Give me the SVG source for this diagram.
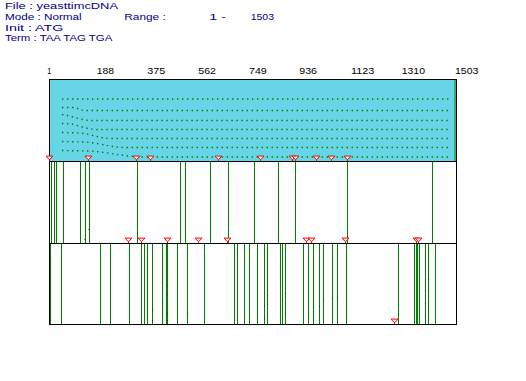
<svg xmlns="http://www.w3.org/2000/svg" xmlns:xlink="http://www.w3.org/1999/xlink" width="526" height="381" viewBox="0 0 526 381">
<style>
.hd{font-family:"Liberation Sans",Arial,sans-serif;font-size:9.5px;fill:#00008c}
.ax{font-family:"Liberation Sans",Arial,sans-serif;font-size:9.5px;fill:#000}
.frame{fill:none;stroke:#000;stroke-width:1}
.g{stroke:#008000;stroke-width:1;fill:none}
.dots{stroke:#008000;stroke-width:1.4;fill:none;stroke-dasharray:1.4 3.6}
.bd{fill:#222}
</style>
<defs>
<path id="tri" d="M-3.5,0.6 H3.5 L0,4.3 Z M0,4.3 V5.5" fill="#fff" stroke="#f00" stroke-width="1"/>
</defs>
<rect width="526" height="381" fill="#fff"/>
<g id="header">
<text class="hd" x="5" y="9" textLength="113" lengthAdjust="spacingAndGlyphs">File : yeasttimcDNA</text>
<text class="hd" x="5" y="20" textLength="76.7" lengthAdjust="spacingAndGlyphs">Mode : Normal</text>
<text class="hd" x="124.3" y="20" textLength="41.4" lengthAdjust="spacingAndGlyphs">Range :</text>
<text class="hd" x="209.3" y="20" textLength="16.7" lengthAdjust="spacingAndGlyphs">1 -</text>
<text class="hd" x="250.7" y="20" textLength="23.3" lengthAdjust="spacingAndGlyphs">1503</text>
<text class="hd" x="5" y="30.7" textLength="58.3" lengthAdjust="spacingAndGlyphs">Init : ATG</text>
<text class="hd" x="5" y="41.3" textLength="107.3" lengthAdjust="spacingAndGlyphs">Term : TAA TAG TGA</text>
</g>
<g id="axis">
<text class="ax" x="47.3" y="74" textLength="4" lengthAdjust="spacingAndGlyphs">1</text>
<text class="ax" x="96.7" y="74" textLength="17.3" lengthAdjust="spacingAndGlyphs">188</text>
<text class="ax" x="147.3" y="74" textLength="18" lengthAdjust="spacingAndGlyphs">375</text>
<text class="ax" x="198.3" y="74" textLength="17.7" lengthAdjust="spacingAndGlyphs">562</text>
<text class="ax" x="249" y="74" textLength="17.7" lengthAdjust="spacingAndGlyphs">749</text>
<text class="ax" x="299.3" y="74" textLength="17.7" lengthAdjust="spacingAndGlyphs">936</text>
<text class="ax" x="351" y="74" textLength="23.3" lengthAdjust="spacingAndGlyphs">1123</text>
<text class="ax" x="401.7" y="74" textLength="23.3" lengthAdjust="spacingAndGlyphs">1310</text>
<text class="ax" x="455" y="74" textLength="23.3" lengthAdjust="spacingAndGlyphs">1503</text>
</g>
<g id="plot-panel">
<rect x="49.5" y="79.5" width="407" height="82" fill="#66d6e6"/>
<line class="g" x1="455" y1="80" x2="455" y2="161"/>
<g id="dot-rows">
<path class="dots" d="M62,99 L451,99"/>
<path class="dots" d="M62,107.5 L72,107.5 C78,107.5 80,110.5 86,110.5 L451,110.5"/>
<path class="dots" d="M62,114.5 C72,116 82,120.5 92,120.5 L451,120.5"/>
<path class="dots" d="M62,123.5 L72,124 C80,126 88,129.5 98,129.5 L451,129.5"/>
<path class="dots" d="M62,132.5 L80,133 C95,135 100,138.5 112,138.5 L451,138.5"/>
<path class="dots" d="M62,141.5 L85,142 C105,144 112,147.5 125,147.5 L451,147.5"/>
<path class="dots" d="M62,150.5 L90,151 C115,153 125,157 145,157 L451,157"/>
</g>
</g>
<g id="mid-lines">
<path class="g" d="M51.5,162V243M54.5,162V243M56.5,162V243M63.5,162V243M80.5,162V243M85.5,162V243M89.5,162V243M137.5,162V243M180.5,162V243M185.5,162V243M210.5,162V243M228.5,162V243M254.5,162V243M278.5,162V243M295.5,162V243M347.5,162V243M432.5,162V243"/>
<rect class="bd" x="88.5" y="229" width="1" height="1"/>
<rect class="bd" x="84.5" y="239" width="1" height="1"/>
</g>
<g id="bottom-lines">
<path class="g" d="M50.5,244V324M61.5,244V324M100.5,244V324M110.5,244V324M129.5,244V324M141.5,244V324M144.5,244V324M147.5,244V324M152.5,244V324M162.5,244V324M166.5,244V324M167.5,244V324M177.5,244V324M187.5,244V324M204.5,244V324M234.5,244V324M237.5,244V324M244.5,244V324M249.5,244V324M257.5,244V324M264.5,244V324M267.5,244V324M280.5,244V324M282.5,244V324M285.5,244V324M303.5,244V324M308.5,244V324M313.5,244V324M319.5,244V324M323.5,244V324M332.5,244V324M337.5,244V324M346.5,244V324M398.5,244V324M414.5,244V324M416.5,244V324M417.5,244V324M419.5,244V324M425.5,244V324M428.5,244V324M435.5,244V324"/>
<g class="bd">
<rect x="166.5" y="285" width="1" height="1"/><rect x="166.5" y="294" width="1" height="1"/><rect x="162" y="302" width="1" height="1"/><rect x="152" y="309" width="1" height="1"/><rect x="152" y="320" width="1" height="1"/><rect x="167" y="313" width="1" height="1"/><rect x="167" y="320" width="1" height="1"/><rect x="187" y="313" width="1" height="1"/><rect x="267" y="295" width="1" height="1"/><rect x="264" y="305" width="1" height="1"/><rect x="267" y="304" width="1" height="1"/><rect x="264" y="318" width="1" height="1"/><rect x="285" y="293" width="1" height="1"/><rect x="282" y="300" width="1" height="1"/><rect x="285" y="313" width="1" height="1"/><rect x="308" y="315" width="1" height="1"/><rect x="313" y="307" width="1" height="1"/><rect x="319" y="306" width="1" height="1"/><rect x="323" y="300" width="1" height="1"/><rect x="332" y="298" width="1" height="1"/><rect x="337" y="297" width="1" height="1"/><rect x="425" y="290" width="1" height="1"/><rect x="428" y="279" width="1" height="1"/><rect x="428" y="289" width="1" height="1"/><rect x="425" y="303" width="1" height="1"/><rect x="425" y="315" width="1" height="1"/>
</g>
</g>
<g id="frame">
<rect class="frame" x="49.5" y="79.5" width="407" height="245"/>
<line class="frame" x1="49.5" y1="161.5" x2="456.5" y2="161.5"/>
<line class="frame" x1="49.5" y1="243.5" x2="456.5" y2="243.5"/>
</g>
<g id="stop-markers">
<use xlink:href="#tri" x="49.5" y="155.5"/>
<use xlink:href="#tri" x="88.5" y="155.5"/>
<use xlink:href="#tri" x="136.5" y="155.5"/>
<use xlink:href="#tri" x="150.5" y="155.5"/>
<use xlink:href="#tri" x="218.5" y="155.5"/>
<use xlink:href="#tri" x="260.5" y="155.5"/>
<use xlink:href="#tri" x="292.5" y="155.5"/>
<use xlink:href="#tri" x="295.5" y="155.5"/>
<use xlink:href="#tri" x="316.5" y="155.5"/>
<use xlink:href="#tri" x="331.5" y="155.5"/>
<use xlink:href="#tri" x="347.5" y="155.5"/>
<use xlink:href="#tri" x="128.5" y="237.5"/>
<use xlink:href="#tri" x="141.5" y="237.5"/>
<use xlink:href="#tri" x="167.5" y="237.5"/>
<use xlink:href="#tri" x="198.5" y="237.5"/>
<use xlink:href="#tri" x="227.5" y="237.5"/>
<use xlink:href="#tri" x="306.5" y="237.5"/>
<use xlink:href="#tri" x="311.5" y="237.5"/>
<use xlink:href="#tri" x="345.5" y="237.5"/>
<use xlink:href="#tri" x="416.5" y="237.5"/>
<use xlink:href="#tri" x="418.5" y="237.5"/>
<use xlink:href="#tri" x="394.5" y="318.5"/>
</g>
</svg>
